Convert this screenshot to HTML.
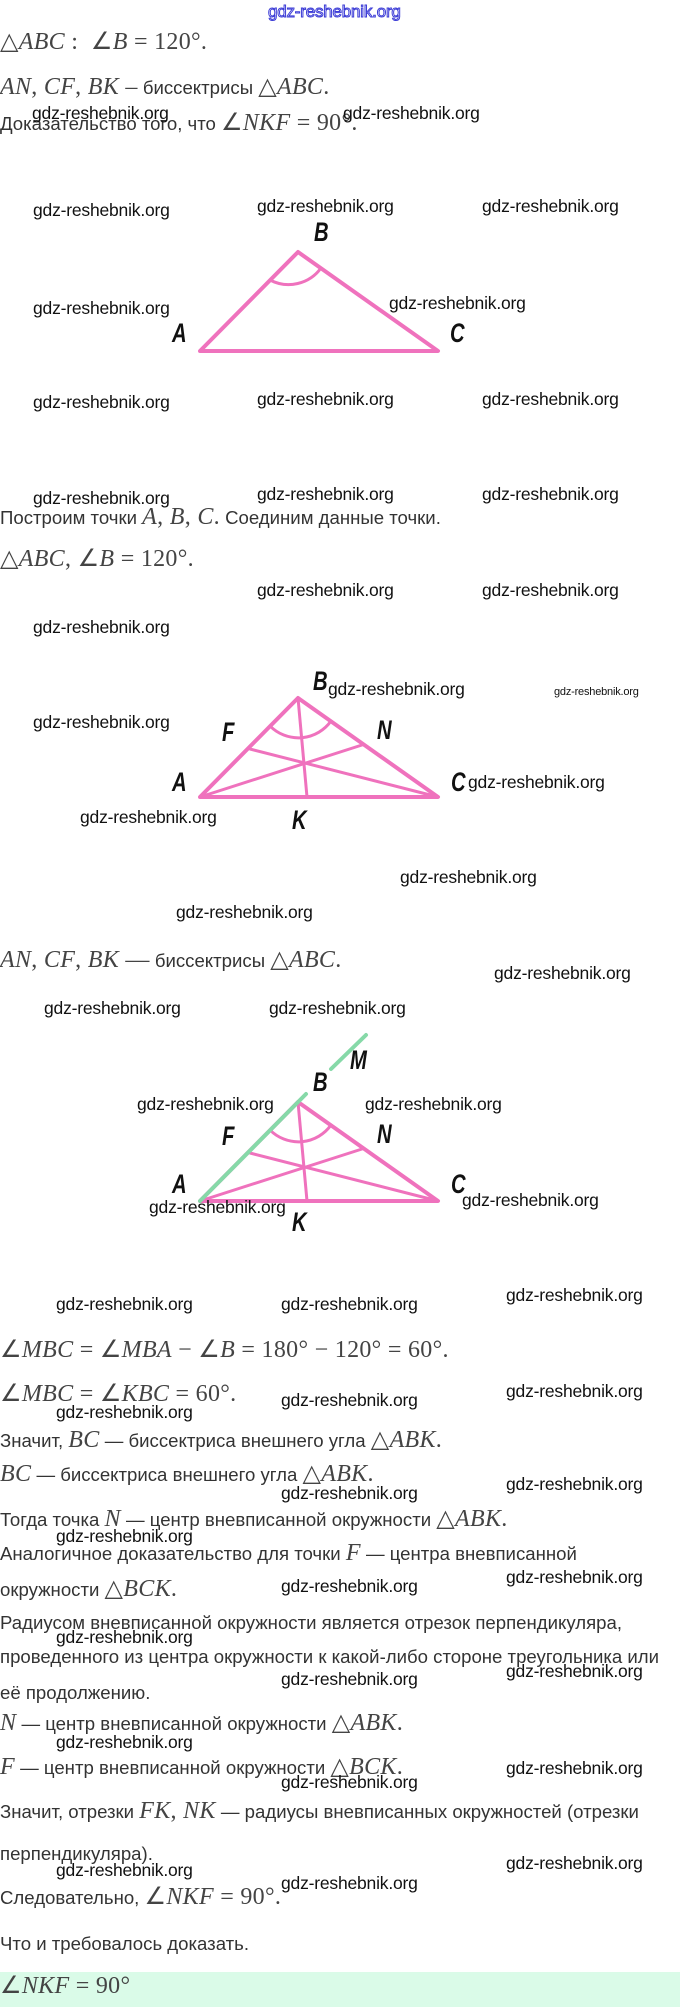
<!DOCTYPE html>
<html><head><meta charset="utf-8">
<style>
body{margin:0;width:680px;height:2007px;background:#fff;position:relative;overflow:hidden;font-family:"Liberation Sans",sans-serif;}
.t{position:absolute;left:0;white-space:nowrap;color:#333;font-size:18.6px;line-height:24px;letter-spacing:0px;}
.m{font-family:"Liberation Serif",serif;font-size:24px;color:#444;letter-spacing:0.3px;}
.i{font-style:italic;}
.w{position:absolute;white-space:nowrap;font-size:17.5px;color:#111;line-height:20px;letter-spacing:-0.2px;}
.l{position:absolute;font-family:"Liberation Sans",sans-serif;font-weight:bold;font-style:italic;font-size:27px;color:#111;transform:scaleX(0.75);transform-origin:left top;line-height:28px;}
</style></head><body>

<div class="w" style="left:268px;top:2px;color:#fff;-webkit-text-stroke:1px #3b3bd6;font-size:17px;">gdz-reshebnik.org</div>

<div class="t m" style="top:30px;"><span>△</span><span class="i">ABC</span> :&nbsp; ∠<span class="i">B</span> = 120°.</div>
<div class="t" style="top:75px;"><span class="m"><span class="i">AN</span>, <span class="i">CF</span>, <span class="i">BK</span> –</span> биссектрисы <span class="m">△<span class="i">ABC</span>.</span></div>
<div class="t" style="top:111px;">Доказательство того, что <span class="m">∠<span class="i">NKF</span> = 90°.</span></div>
<div class="w" style="left:32px;top:103px;">gdz-reshebnik.org</div>
<div class="w" style="left:343px;top:103px;">gdz-reshebnik.org</div>

<div class="w" style="left:33px;top:200px;">gdz-reshebnik.org</div>
<div class="w" style="left:257px;top:196px;">gdz-reshebnik.org</div>
<div class="w" style="left:482px;top:196px;">gdz-reshebnik.org</div>
<div class="w" style="left:33px;top:298px;">gdz-reshebnik.org</div>
<div class="w" style="left:389px;top:293px;">gdz-reshebnik.org</div>
<div class="w" style="left:33px;top:392px;">gdz-reshebnik.org</div>
<div class="w" style="left:257px;top:389px;">gdz-reshebnik.org</div>
<div class="w" style="left:482px;top:389px;">gdz-reshebnik.org</div>
<div class="w" style="left:33px;top:488px;">gdz-reshebnik.org</div>
<div class="w" style="left:257px;top:484px;">gdz-reshebnik.org</div>
<div class="w" style="left:482px;top:484px;">gdz-reshebnik.org</div>

<svg style="position:absolute;left:0;top:0" width="680" height="2007">
<g stroke="#ef72bd" fill="none" stroke-linejoin="round" stroke-linecap="round">
 <polygon points="200,351 298,252 438,351" stroke-width="4"/>
 <path d="M270,280 A40,40 0 0 0 321,268" stroke-width="3"/>
 <polygon points="200,797 298,698 438,797" stroke-width="4"/>
 <path d="M270,726 A40,40 0 0 0 331,721" stroke-width="3"/>
 <line x1="298" y1="698" x2="307" y2="797" stroke-width="3"/>
 <line x1="200" y1="797" x2="362" y2="745" stroke-width="3"/>
 <line x1="438" y1="797" x2="250" y2="749" stroke-width="3"/>
 <polygon points="200,1201 298,1102 438,1201" stroke-width="4"/>
 <path d="M270,1130 A40,40 0 0 0 331,1125" stroke-width="3"/>
 <line x1="298" y1="1102" x2="307" y2="1201" stroke-width="3"/>
 <line x1="200" y1="1201" x2="362" y2="1149" stroke-width="3"/>
 <line x1="438" y1="1201" x2="250" y2="1153" stroke-width="3"/>
</g>
<g stroke="#86d9a8" stroke-width="4" stroke-linecap="round">
 <line x1="200" y1="1201" x2="306" y2="1094"/>
 <line x1="331" y1="1069" x2="366" y2="1035"/>
</g>
</svg>

<div class="l" style="left:314px;top:218px;">B</div>
<div class="l" style="left:172px;top:319px;">A</div>
<div class="l" style="left:450px;top:319px;">C</div>

<div class="t" style="top:505px;">Построим точки <span class="m"><span class="i">A</span>, <span class="i">B</span>, <span class="i">C</span>.</span> Соединим данные точки.</div>
<div class="t m" style="top:547px;">△<span class="i">ABC</span>, ∠<span class="i">B</span> = 120°.</div>
<div class="w" style="left:257px;top:580px;">gdz-reshebnik.org</div>
<div class="w" style="left:482px;top:580px;">gdz-reshebnik.org</div>
<div class="w" style="left:33px;top:617px;">gdz-reshebnik.org</div>
<div class="w" style="left:33px;top:712px;">gdz-reshebnik.org</div>

<div class="l" style="left:313px;top:667px;">B</div>
<div class="w" style="left:328px;top:679px;">gdz-reshebnik.org</div>
<div class="w" style="left:554px;top:682px;font-size:11px;">gdz-reshebnik.org</div>
<div class="l" style="left:222px;top:718px;">F</div>
<div class="l" style="left:377px;top:716px;">N</div>
<div class="l" style="left:172px;top:768px;">A</div>
<div class="l" style="left:451px;top:768px;">C</div>
<div class="w" style="left:468px;top:772px;">gdz-reshebnik.org</div>
<div class="w" style="left:80px;top:807px;">gdz-reshebnik.org</div>
<div class="l" style="left:292px;top:806px;">K</div>
<div class="w" style="left:400px;top:867px;">gdz-reshebnik.org</div>
<div class="w" style="left:176px;top:902px;">gdz-reshebnik.org</div>

<div class="t" style="top:948px;"><span class="m"><span class="i">AN</span>, <span class="i">CF</span>, <span class="i">BK</span> —</span> биссектрисы <span class="m">△<span class="i">ABC</span>.</span></div>
<div class="w" style="left:494px;top:963px;">gdz-reshebnik.org</div>
<div class="w" style="left:44px;top:998px;">gdz-reshebnik.org</div>
<div class="w" style="left:269px;top:998px;">gdz-reshebnik.org</div>

<div class="l" style="left:350px;top:1046px;">M</div>
<div class="l" style="left:313px;top:1068px;">B</div>
<div class="w" style="left:137px;top:1094px;">gdz-reshebnik.org</div>
<div class="w" style="left:365px;top:1094px;">gdz-reshebnik.org</div>
<div class="l" style="left:222px;top:1122px;">F</div>
<div class="l" style="left:377px;top:1120px;">N</div>
<div class="l" style="left:172px;top:1170px;">A</div>
<div class="l" style="left:451px;top:1170px;">C</div>
<div class="w" style="left:149px;top:1197px;">gdz-reshebnik.org</div>
<div class="l" style="left:292px;top:1208px;">K</div>
<div class="w" style="left:462px;top:1190px;">gdz-reshebnik.org</div>

<div class="w" style="left:56px;top:1294px;">gdz-reshebnik.org</div>
<div class="w" style="left:281px;top:1294px;">gdz-reshebnik.org</div>
<div class="w" style="left:506px;top:1285px;">gdz-reshebnik.org</div>

<div class="t m" style="top:1338px;">∠<span class="i">MBC</span> = ∠<span class="i">MBA</span> − ∠<span class="i">B</span> = 180° − 120° = 60°.</div>
<div class="t m" style="top:1382px;">∠<span class="i">MBC</span> = ∠<span class="i">KBC</span> = 60°.</div>
<div class="w" style="left:281px;top:1390px;">gdz-reshebnik.org</div>
<div class="w" style="left:506px;top:1381px;">gdz-reshebnik.org</div>
<div class="w" style="left:56px;top:1402px;">gdz-reshebnik.org</div>
<div class="t" style="top:1428px;">Значит, <span class="m"><span class="i">BC</span></span> — биссектриса внешнего угла <span class="m">△<span class="i">ABK</span>.</span></div>
<div class="t" style="top:1462px;"><span class="m"><span class="i">BC</span></span> — биссектриса внешнего угла <span class="m">△<span class="i">ABK</span>.</span></div>
<div class="w" style="left:281px;top:1483px;">gdz-reshebnik.org</div>
<div class="w" style="left:506px;top:1474px;">gdz-reshebnik.org</div>
<div class="t" style="top:1507px;">Тогда точка <span class="m"><span class="i">N</span></span> — центр вневписанной окружности <span class="m">△<span class="i">ABK</span>.</span></div>
<div class="w" style="left:56px;top:1526px;">gdz-reshebnik.org</div>
<div class="t" style="top:1541px;">Аналогичное доказательство для точки <span class="m"><span class="i">F</span></span> — центра вневписанной</div>
<div class="t" style="top:1577px;">окружности <span class="m">△<span class="i">BCK</span>.</span></div>
<div class="w" style="left:281px;top:1576px;">gdz-reshebnik.org</div>
<div class="w" style="left:506px;top:1567px;">gdz-reshebnik.org</div>
<div class="t" style="top:1611px;">Радиусом вневписанной окружности является отрезок перпендикуляра,</div>
<div class="w" style="left:56px;top:1627px;">gdz-reshebnik.org</div>
<div class="t" style="top:1645px;">проведенного из центра окружности к какой-либо стороне треугольника или</div>
<div class="t" style="top:1681px;">её продолжению.</div>
<div class="w" style="left:281px;top:1669px;">gdz-reshebnik.org</div>
<div class="w" style="left:506px;top:1661px;">gdz-reshebnik.org</div>
<div class="t" style="top:1711px;"><span class="m"><span class="i">N</span></span> — центр вневписанной окружности <span class="m">△<span class="i">ABK</span>.</span></div>
<div class="w" style="left:56px;top:1732px;">gdz-reshebnik.org</div>
<div class="t" style="top:1755px;"><span class="m"><span class="i">F</span></span> — центр вневписанной окружности <span class="m">△<span class="i">BCK</span>.</span></div>
<div class="w" style="left:506px;top:1758px;">gdz-reshebnik.org</div>
<div class="w" style="left:281px;top:1772px;">gdz-reshebnik.org</div>
<div class="t" style="top:1799px;">Значит, отрезки <span class="m"><span class="i">FK</span>, <span class="i">NK</span></span> — радиусы вневписанных окружностей (отрезки</div>
<div class="t" style="top:1842px;">перпендикуляра).</div>
<div class="w" style="left:56px;top:1860px;">gdz-reshebnik.org</div>
<div class="w" style="left:506px;top:1853px;">gdz-reshebnik.org</div>
<div class="t" style="top:1885px;">Следовательно, <span class="m">∠<span class="i">NKF</span> = 90°.</span></div>
<div class="w" style="left:281px;top:1873px;">gdz-reshebnik.org</div>
<div class="t" style="top:1932px;">Что и требовалось доказать.</div>
<div style="position:absolute;left:0;top:1972px;width:680px;height:35px;background:#dafbe8;"></div>
<div class="t m" style="top:1974px;">∠<span class="i">NKF</span> = 90°</div>
</body></html>
